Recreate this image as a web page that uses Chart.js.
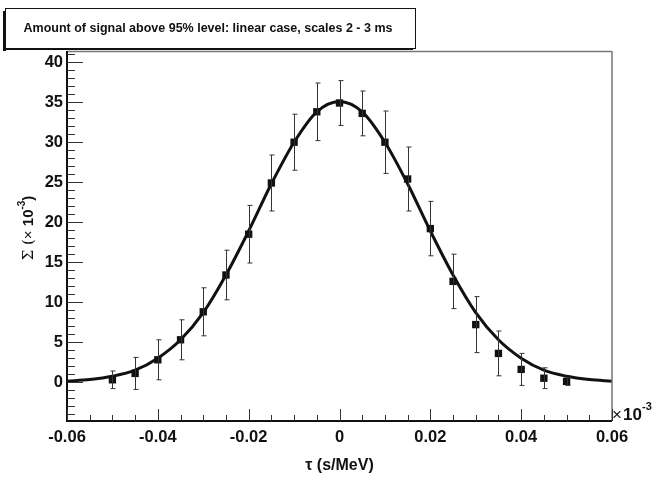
<!DOCTYPE html>
<html>
<head>
<meta charset="utf-8">
<script src="https://cdn.jsdelivr.net/npm/chart.js@4"></script>
<style>
  html, body { margin: 0; padding: 0; background: #fff; }
  #wrap { width: 654px; height: 477px; position: relative; }
</style>
</head>
<body>
<div id="wrap"><canvas id="c"></canvas></div>
<script>
// datos medidos (tau en unidades de 10^-3 s/MeV)
const tauPoints = [-0.05, -0.045, -0.04, -0.035, -0.03, -0.025, -0.02, -0.015, -0.01, -0.005, 0,
  0.005, 0.01, 0.015, 0.02, 0.025, 0.03, 0.035, 0.04, 0.045, 0.05];
const sigmaValues = [0.3, 1.1, 2.8, 5.3, 8.8, 13.4, 18.5, 24.9, 30.0, 33.8, 34.9,
  33.6, 30.0, 25.4, 19.2, 12.6, 7.2, 3.6, 1.6, 0.5, 0.1];
const sigmaErrors = [1.1, 2.0, 2.5, 2.5, 3.0, 3.1, 3.6, 3.5, 3.5, 3.6, 2.8,
  2.8, 3.9, 4.0, 3.4, 3.4, 3.5, 2.8, 2.0, 1.3, 0.5];

// curva de ajuste
const fitTau = [-0.06, -0.055, -0.05, -0.045, -0.04, -0.035, -0.03, -0.025, -0.02, -0.015, -0.01, -0.005, 0,
  0.005, 0.01, 0.015, 0.02, 0.025, 0.03, 0.035, 0.04, 0.045, 0.05, 0.055, 0.06];
const fitSigma = [0.13, 0.33, 0.74, 1.5, 3.0, 5.3, 8.7, 13.4, 18.9, 24.8, 30.0, 33.8, 35.1,
  33.8, 30.0, 24.8, 18.9, 13.4, 8.7, 5.3, 3.0, 1.5, 0.74, 0.33, 0.13];

// ejes
const xTicks = [-0.06, -0.04, -0.02, 0, 0.02, 0.04, 0.06];
const xTickLabels = ['-0.06', '-0.04', '-0.02', '0', '0.02', '0.04', '0.06'];
const yTicks = [0, 5, 10, 15, 20, 25, 30, 35, 40];
const yTickLabels = ['0', '5', '10', '15', '20', '25', '30', '35', '40'];

const titleText = 'Amount of signal above 95% level: linear case, scales 2 - 3 ms';
const xTitle = '\u03c4 (s/MeV)';

const INK = '#111';
const FONT = '"Liberation Sans", Arial, sans-serif';

// Plugin: marcas internas estilo ROOT, barras de error y textos
const rootStyle = {
  id: 'rootStyle',
  afterDatasetsDraw(chart) {
    const ctx = chart.ctx;
    const x = chart.scales.x, y = chart.scales.y;

    // barras de error
    ctx.save();
    ctx.strokeStyle = '#333';
    ctx.lineWidth = 1;
    tauPoints.forEach((t, i) => {
      const px = Math.round(x.getPixelForValue(t)) + 0.5;
      const top = y.getPixelForValue(sigmaValues[i] + sigmaErrors[i]);
      const bot = y.getPixelForValue(sigmaValues[i] - sigmaErrors[i]);
      ctx.beginPath();
      ctx.moveTo(px, top); ctx.lineTo(px, bot);
      ctx.moveTo(px - 2, top); ctx.lineTo(px + 3, top);
      ctx.moveTo(px - 2, bot); ctx.lineTo(px + 3, bot);
      ctx.stroke();
    });
    ctx.restore();
  },
  afterDraw(chart) {
    const ctx = chart.ctx;
    const x = chart.scales.x, y = chart.scales.y;
    const a = chart.chartArea;
    ctx.save();

    // marco
    ctx.strokeStyle = '#777';
    ctx.lineWidth = 1.5;
    ctx.beginPath();
    ctx.moveTo(a.left, a.top + 0.5); ctx.lineTo(a.right, a.top + 0.5);
    ctx.moveTo(a.right, a.top); ctx.lineTo(a.right, a.bottom);
    ctx.stroke();

    ctx.strokeStyle = INK;
    ctx.lineWidth = 2;
    ctx.beginPath();
    ctx.moveTo(a.left, a.top); ctx.lineTo(a.left, a.bottom);
    ctx.lineTo(a.right, a.bottom);
    ctx.stroke();

    // marcas eje Y (mayores cada 5, menores cada 1)
    ctx.lineWidth = 1;
    ctx.strokeStyle = '#333';
    ctx.beginPath();
    for (let v = Math.ceil(y.min); v <= y.max; v++) {
      const py = Math.round(y.getPixelForValue(v)) + 0.5;
      const len = (v % 5 === 0) ? 16 : 8;
      ctx.moveTo(a.left, py); ctx.lineTo(a.left + len, py);
    }
    // marcas eje X (mayores cada 0.02, menores cada 0.005)
    for (let k = -12; k <= 12; k++) {
      const t = k * 0.005;
      const px = Math.round(x.getPixelForValue(t)) + 0.5;
      const len = (k % 4 === 0) ? 12 : 6;
      ctx.moveTo(px, a.bottom); ctx.lineTo(px, a.bottom - len);
    }
    ctx.stroke();

    // ×10^-3 del eje X
    ctx.fillStyle = INK;
    ctx.textBaseline = 'alphabetic';
    ctx.textAlign = 'left';
    ctx.font = '17px ' + FONT;
    ctx.fillText('\u00d7', a.right, a.bottom - 1);
    ctx.font = 'bold 17px ' + FONT;
    ctx.fillText('10', a.right + 11, a.bottom - 1);
    ctx.font = 'bold 11px ' + FONT;
    ctx.fillText('-3', a.right + 30, a.bottom - 11);

    // título eje X
    ctx.textAlign = 'center';
    ctx.font = 'bold 16px ' + FONT;
    ctx.fillText(xTitle, (a.left + a.right) / 2, 470);

    // título eje Y (rotado)
    ctx.save();
    ctx.translate(33, 228);
    ctx.rotate(-Math.PI / 2);
    ctx.textAlign = 'left';
    const parts = [
      ['\u03a3 (', '15px "DejaVu Serif", serif', 0],
      ['\u00d7 ', '15px ' + FONT, 0],
      ['10', 'bold 15px ' + FONT, 0],
      ['-3', 'bold 10px ' + FONT, -8],
      [')', 'bold 15px ' + FONT, 0]
    ];
    let total = 0;
    parts.forEach(p => { ctx.font = p[1]; total += ctx.measureText(p[0]).width; });
    let cx = -total / 2;
    parts.forEach(p => {
      ctx.font = p[1];
      ctx.fillText(p[0], cx, p[2]);
      cx += ctx.measureText(p[0]).width;
    });
    ctx.restore();

    // caja del título con sombra
    const bx = 5, by = 8, bw = 410, bh = 40;
    ctx.fillStyle = INK;
    ctx.fillRect(bx - 2, by + 3, 3, bh);
    ctx.fillRect(bx - 2, by + bh - 1, bw, 3);
    ctx.fillStyle = '#fff';
    ctx.fillRect(bx, by, bw, bh);
    ctx.strokeStyle = INK;
    ctx.lineWidth = 1;
    ctx.strokeRect(bx + 0.5, by + 0.5, bw, bh);
    ctx.fillStyle = INK;
    ctx.textAlign = 'center';
    ctx.textBaseline = 'middle';
    ctx.font = 'bold 12.5px ' + FONT;
    ctx.fillText(titleText, bx + bw / 2 - 2, by + bh / 2 + 1);

    ctx.restore();
  }
};

new Chart(document.getElementById('c'), {
  type: 'scatter',
  data: {
    datasets: [
      {
        label: 'ajuste',
        type: 'line',
        data: fitTau.map((t, i) => ({ x: t, y: fitSigma[i] })),
        borderColor: INK,
        borderWidth: 3,
        pointRadius: 0,
        cubicInterpolationMode: 'monotone',
        fill: false,
        order: 2
      },
      {
        label: 'datos',
        data: tauPoints.map((t, i) => ({ x: t, y: sigmaValues[i] })),
        pointStyle: 'rect',
        pointRadius: 5.2,
        backgroundColor: INK,
        borderColor: INK,
        borderWidth: 0,
        order: 1
      }
    ]
  },
  plugins: [rootStyle],
  options: {
    responsive: true,
    maintainAspectRatio: false,
    animation: false,
    layout: { padding: { top: 51, right: 42, left: 0, bottom: 0 } },
    plugins: {
      legend: { display: false },
      tooltip: { enabled: false }
    },
    scales: {
      x: {
        type: 'linear',
        min: -0.06,
        max: 0.06,
        grid: { display: false, drawTicks: false },
        border: { display: false },
        afterBuildTicks: (s) => { s.ticks = xTicks.map(v => ({ value: v })); },
        afterFit: (s) => { s.height = 56; },
        ticks: {
          padding: 7,
          color: INK,
          font: { family: FONT, size: 16.5, weight: 'bold' },
          callback: (v) => xTickLabels[xTicks.findIndex(t => Math.abs(t - v) < 1e-9)]
        }
      },
      y: {
        type: 'linear',
        min: -4.85,
        max: 41.4,
        grid: { display: false, drawTicks: false },
        border: { display: false },
        afterBuildTicks: (s) => { s.ticks = yTicks.map(v => ({ value: v })); },
        afterFit: (s) => { s.width = 67; },
        ticks: {
          padding: 4,
          color: INK,
          font: { family: FONT, size: 16.5, weight: 'bold' },
          callback: (v) => yTickLabels[yTicks.indexOf(v)]
        }
      }
    }
  }
});
</script>
</body>
</html>
